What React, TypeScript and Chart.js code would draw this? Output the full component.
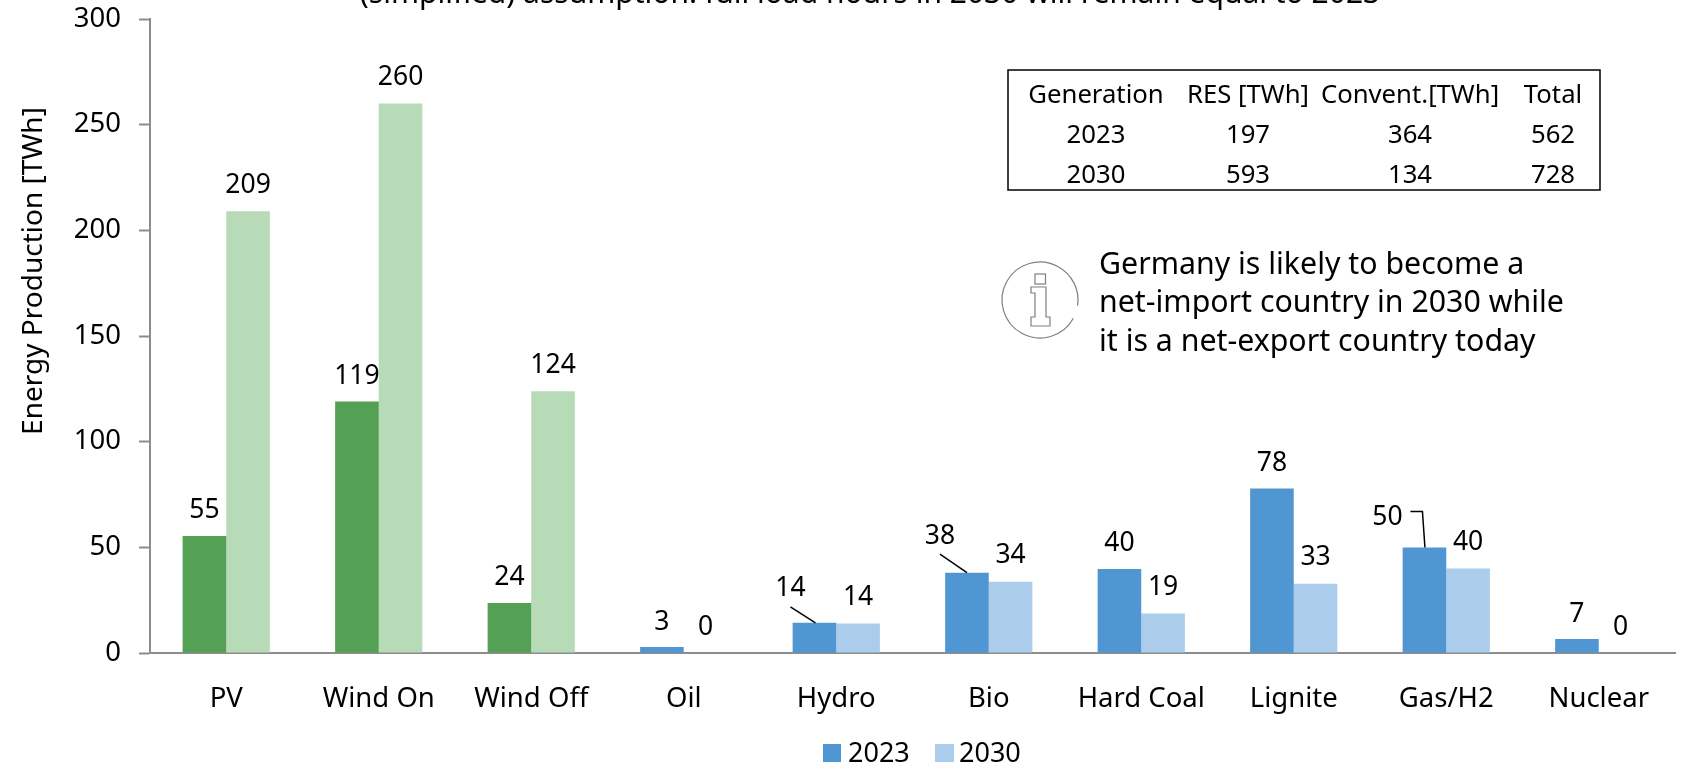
import React, { useEffect, useRef } from "react";
import { Chart, registerables } from "chart.js";

Chart.register(...registerables);

const categories = ["PV", "Wind On", "Wind Off", "Oil", "Hydro", "Bio", "Hard Coal", "Lignite", "Gas/H2", "Nuclear"];
const values2023 = [55.4, 119, 23.7, 2.8, 14.3, 38, 39.8, 77.8, 49.9, 6.6];
const values2030 = [209, 260, 123.8, 0, 13.9, 33.7, 18.7, 32.8, 40, 0];
const labels2023 = ["55", "119", "24", "3", "14", "38", "40", "78", "50", "7"];
const labels2030 = ["209", "260", "124", "0", "14", "34", "19", "33", "40", "0"];
const yTicks = [0, 50, 100, 150, 200, 250, 300];
const seriesNames = ["2023", "2030"];
const tableRows = [
  ["Generation", "RES [TWh]", "Convent.[TWh]", "Total"],
  ["2023", "197", "364", "562"],
  ["2030", "593", "134", "728"],
];
const noteLines = ["Germany is likely to become a", "net-import country in 2030 while", "it is a net-export country today"];
const titleText = "(simplified) assumption: full load hours in 2030 will remain equal to 2023";
const yTitle = "Energy Production [TWh]";

const GREEN = "#54A054";
const LIGHT_GREEN = "#B7DBB7";
const BLUE = "#5096D2";
const LIGHT_BLUE = "#ABCDEB";
const AXIS = "#8C8C8C";
const FAMILY = '"Noto Sans", sans-serif';
const SIZE = 27.5;

// label shifts and leader lines for the 2023 bars, by category index
const shifts2023: Record<number, { dx: number; dy: number; leader: [number, number][] }> = {
  4: { dx: -24, dy: -34, leader: [[-24, -16], [1, 0]] },
  5: { dx: -27, dy: -36, leader: [[-27, -18.5], [0, 0]] },
  8: { dx: -37, dy: -30, leader: [[-14, -36], [-2, -36], [0.5, 0]] },
};

const overlay = {
  id: "overlay",
  afterDraw(chart: any) {
    const { ctx } = chart;
    ctx.save();
    ctx.fillStyle = "#000";
    ctx.textAlign = "center";
    ctx.textBaseline = "middle";
    ctx.font = `26.5px ${FAMILY}`;

    // bar value labels
    [labels2023, labels2030].forEach((labels, ds) => {
      const meta = chart.getDatasetMeta(ds);
      labels.forEach((text, i) => {
        const bar = meta.data[i];
        const shift = ds === 0 ? shifts2023[i] : undefined;
        const defaultDy = ds === 0 ? -25 : -26;
        ctx.fillText(text, bar.x + (shift ? shift.dx : 0), bar.y + (shift ? shift.dy : defaultDy));
        if (shift) {
          ctx.beginPath();
          shift.leader.forEach(([dx, dy], k) => {
            if (k === 0) ctx.moveTo(bar.x + dx, bar.y + dy);
            else ctx.lineTo(bar.x + dx, bar.y + dy);
          });
          ctx.strokeStyle = "#000";
          ctx.lineWidth = 1.5;
          ctx.stroke();
        }
      });
    });

    // clipped title
    ctx.textBaseline = "alphabetic";
    ctx.font = `30px ${FAMILY}`;
    ctx.fillText(titleText, 870, 3);

    // y axis title
    ctx.save();
    ctx.translate(34, 271);
    ctx.rotate(-Math.PI / 2);
    ctx.textBaseline = "middle";
    ctx.font = `28px ${FAMILY}`;
    ctx.fillText(yTitle, 0, 0);
    ctx.restore();

    // summary table
    ctx.strokeStyle = "#000";
    ctx.lineWidth = 1.5;
    ctx.strokeRect(1008, 70, 592, 120);
    ctx.textBaseline = "middle";
    ctx.font = `25.7px ${FAMILY}`;
    const colX = [1096, 1248, 1410, 1553];
    const rowY = [96, 136, 176];
    tableRows.forEach((row, r) => row.forEach((cell, c) => ctx.fillText(cell, colX[c], rowY[r])));

    // note
    ctx.textAlign = "left";
    ctx.font = `30.3px ${FAMILY}`;
    noteLines.forEach((line, i) => ctx.fillText(line, 1099, [265, 303, 342][i]));

    // info icon
    ctx.strokeStyle = "#7F7F7F";
    ctx.lineWidth = 1.2;
    ctx.beginPath();
    ctx.arc(1040, 300, 38, 0.5, Math.PI * 2 + 0.15);
    ctx.stroke();
    ctx.strokeRect(1035, 274, 10.5, 10);
    ctx.beginPath();
    const stem: [number, number][] = [[1031, 287], [1046, 287], [1046, 317], [1050, 317], [1050, 326], [1031, 326], [1031, 317], [1035, 317], [1035, 293], [1031, 293]];
    stem.forEach(([x, y], k) => (k === 0 ? ctx.moveTo(x, y) : ctx.lineTo(x, y)));
    ctx.closePath();
    ctx.stroke();

    // legend
    ctx.font = `27px ${FAMILY}`;
    ctx.fillStyle = BLUE;
    ctx.fillRect(823, 744, 18, 18);
    ctx.fillStyle = LIGHT_BLUE;
    ctx.fillRect(935, 744, 19, 18);
    ctx.fillStyle = "#000";
    ctx.fillText(seriesNames[0], 848, 754);
    ctx.fillText(seriesNames[1], 959, 754);
    ctx.restore();
  },
};

export default function App() {
  const ref = useRef<HTMLCanvasElement>(null);
  useEffect(() => {
    const chart = new Chart(ref.current!, {
      type: "bar",
      data: {
        labels: categories,
        datasets: [
          {
            label: seriesNames[0],
            data: values2023,
            backgroundColor: categories.map((_, i) => (i < 3 ? GREEN : BLUE)),
            categoryPercentage: 0.572,
            barPercentage: 1,
          },
          {
            label: seriesNames[1],
            data: values2030,
            backgroundColor: categories.map((_, i) => (i < 3 ? LIGHT_GREEN : LIGHT_BLUE)),
            categoryPercentage: 0.572,
            barPercentage: 1,
          },
        ],
      },
      options: {
        animation: false,
        responsive: false,
        devicePixelRatio: 1,
        layout: { padding: { top: 19, right: 6, bottom: 0, left: 0 } },
        plugins: { legend: { display: false }, tooltip: { enabled: false }, title: { display: false } },
        scales: {
          x: {
            grid: { display: false },
            border: { color: AXIS, width: 2 },
            ticks: { color: "#000", font: { family: FAMILY, size: SIZE }, padding: 22, maxRotation: 0, autoSkip: false },
            afterFit(scale: any) {
              scale.height = 112;
              scale.paddingLeft = 0;
              scale.paddingRight = 0;
            },
          },
          y: {
            min: 0,
            max: 300,
            afterBuildTicks(scale: any) {
              scale.ticks = yTicks.map((value) => ({ value }));
            },
            grid: { drawOnChartArea: false, drawTicks: true, tickLength: 11, tickColor: AXIS, tickWidth: 2 },
            border: { color: AXIS, width: 2 },
            ticks: { color: "#000", font: { family: FAMILY, size: SIZE }, padding: 18 },
            afterFit(scale: any) {
              scale.width = 150;
              scale.paddingTop = 0;
              scale.paddingBottom = 0;
            },
          },
        },
      },
      plugins: [overlay],
    } as any);
    return () => chart.destroy();
  }, []);
  return <canvas ref={ref} width={1681} height={765} style={{ position: "absolute", left: 0, top: 0, display: "block" }} />;
}
